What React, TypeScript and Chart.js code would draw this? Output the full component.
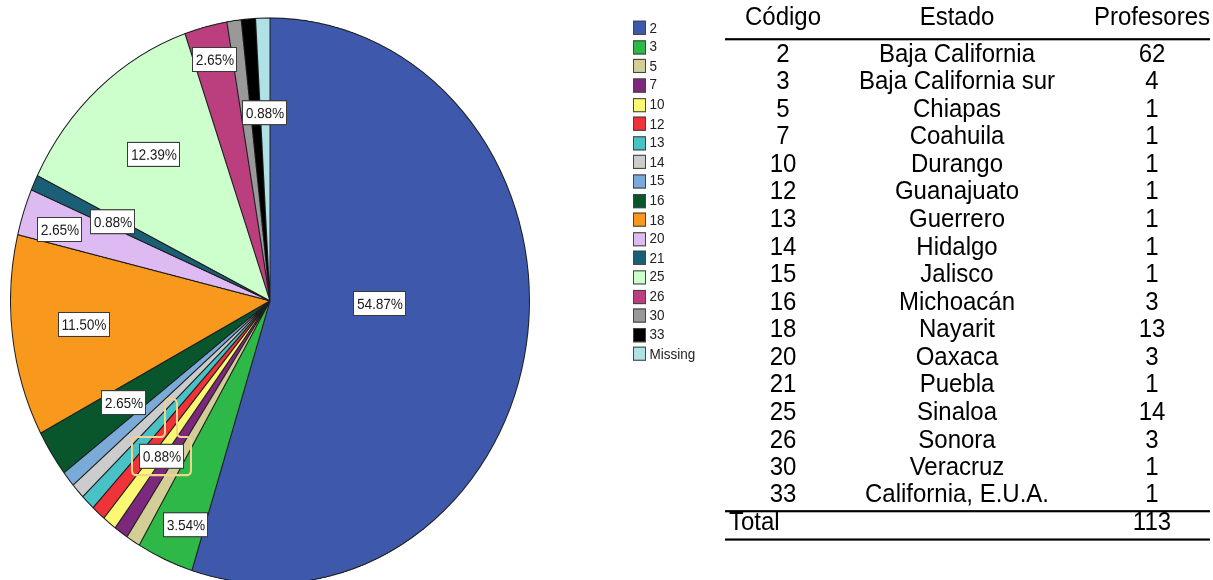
import React, { useEffect, useRef } from 'react';
import { Chart, registerables } from 'chart.js';

Chart.register(...registerables);

// ---------- data ----------
const headers = ['Código', 'Estado', 'Profesores'];
const codes = ['2', '3', '5', '7', '10', '12', '13', '14', '15', '16', '18', '20', '21', '25', '26', '30', '33'];
const estados = [
  'Baja California', 'Baja California sur', 'Chiapas', 'Coahuila', 'Durango', 'Guanajuato',
  'Guerrero', 'Hidalgo', 'Jalisco', 'Michoacán', 'Nayarit', 'Oaxaca', 'Puebla', 'Sinaloa',
  'Sonora', 'Veracruz', 'California, E.U.A.',
];
const profesores = [62, 4, 1, 1, 1, 1, 1, 1, 1, 3, 13, 3, 1, 14, 3, 1, 1];
const missingLabel = 'Missing';
const missingCount = 1;
const totalLabel = 'Total';

const pieLabels = [...codes, missingLabel];
const pieValues = [...profesores, missingCount];
const totalCount = pieValues.reduce((a, b) => a + b, 0);

const sliceColors = [
  '#3e58ac', '#2eb848', '#d3ce97', '#7b287d', '#fbf873', '#ef3338', '#48c2c5', '#cccccc',
  '#7aaad8', '#0a562c', '#f8981d', '#ddbaf1', '#1a5f76', '#ccffcc', '#bb3f7f', '#999999',
  '#000000', '#b0e2e5',
];

// which slices get a percentage label (radius fraction, angular shift in degrees)
const labelPlacements = [
  { slice: 0, radius: 0.424, shift: -7.1 },
  { slice: 1, radius: 0.857, shift: -1.7 },
  { slice: 4, radius: 0.691, shift: -1.0, highlight: true },
  { slice: 9, radius: 0.67, shift: -0.25 },
  { slice: 10, radius: 0.72, shift: 0.4 },
  { slice: 11, radius: 0.849, shift: -1.1 },
  { slice: 12, radius: 0.666, shift: 0.1 },
  { slice: 13, radius: 0.685, shift: 0.5 },
  { slice: 14, radius: 0.878, shift: 0.4 },
  { slice: 17, radius: 0.665, shift: -0.2 },
];

// ---------- layout ----------
const K = 1.09; // vertical stretch of the whole picture
const FONT = '"Liberation Sans", Arial, Helvetica, sans-serif';

function roundedPoly(ctx: CanvasRenderingContext2D, pts: number[][], r: number) {
  const n = pts.length;
  const last = pts[n - 1];
  const first = pts[0];
  ctx.beginPath();
  ctx.moveTo((last[0] + first[0]) / 2, (last[1] + first[1]) / 2);
  for (let i = 0; i < n; i++) {
    const p = pts[i];
    const q = pts[(i + 1) % n];
    ctx.arcTo(p[0], p[1], q[0], q[1], r);
  }
  ctx.closePath();
}

const pctLabelPlugin = {
  id: 'pctLabels',
  afterDatasetsDraw(chart: any) {
    const meta = chart.getDatasetMeta(0);
    const ctx: CanvasRenderingContext2D = chart.ctx;
    ctx.save();
    ctx.font = `13.5px ${FONT}`;
    ctx.textAlign = 'center';
    ctx.textBaseline = 'middle';
    for (const p of labelPlacements) {
      const arc = meta.data[p.slice];
      const { x, y, startAngle, endAngle, outerRadius } = arc.getProps(
        ['x', 'y', 'startAngle', 'endAngle', 'outerRadius'],
        true
      );
      const a = (startAngle + endAngle) / 2 + (p.shift * Math.PI) / 180;
      const cx = Math.round(x + Math.cos(a) * outerRadius * p.radius);
      const cy = Math.round(y + Math.sin(a) * outerRadius * p.radius);
      const text = ((pieValues[p.slice] / totalCount) * 100).toFixed(2) + '%';
      const w = Math.round(ctx.measureText(text).width + 7);
      const h = 23;
      const bx = cx - Math.round(w / 2);
      const by = cy - Math.round(h / 2);
      if ((p as any).highlight) {
        const mx = 7;
        const my = 6;
        const fx0 = bx - mx, fx1 = bx + w + mx, fy0 = by - my, fy1 = by + h + my;
        const tx0 = cx + 3, tx1 = cx + 15, ty0 = cy - 53;
        ctx.save();
        ctx.strokeStyle = '#f1d48b';
        ctx.lineWidth = 2;
        roundedPoly(
          ctx,
          [
            [fx0, fy0], [tx0, fy0], [tx0, ty0], [tx1, ty0], [tx1, fy0],
            [fx1, fy0], [fx1, fy1], [fx0, fy1],
          ],
          4
        );
        ctx.stroke();
        ctx.restore();
      }
      ctx.fillStyle = '#ffffff';
      ctx.fillRect(bx, by, w, h);
      ctx.strokeStyle = '#3a3a3a';
      ctx.lineWidth = 1;
      ctx.strokeRect(bx + 0.5, by + 0.5, w - 1, h - 1);
      ctx.fillStyle = '#1a1a1a';
      ctx.fillText(text, cx, cy + 1);
    }
    ctx.restore();
  },
};

function PieChart() {
  const ref = useRef<HTMLCanvasElement | null>(null);
  useEffect(() => {
    if (!ref.current) return;
    const chart = new Chart(ref.current, {
      type: 'pie',
      data: {
        labels: pieLabels,
        datasets: [
          {
            data: pieValues,
            backgroundColor: sliceColors,
            borderColor: '#1e1e1e',
            borderWidth: 1,
          },
        ],
      },
      options: {
        responsive: false,
        animation: false,
        devicePixelRatio: 2,
        events: [],
        layout: { padding: 0 },
        plugins: { legend: { display: false }, tooltip: { enabled: false } },
      },
      plugins: [pctLabelPlugin],
    } as any);
    return () => chart.destroy();
  }, []);
  return (
    <canvas
      ref={ref}
      width={520}
      height={520}
      style={{ position: 'absolute', left: 10, top: 16.1, width: 520, height: 520 }}
    />
  );
}

function Legend() {
  return (
    <>
      {pieLabels.map((lab, i) => {
        const cy = (28 + 19.18 * i) / K;
        return (
          <React.Fragment key={lab}>
            <div
              style={{
                position: 'absolute',
                left: 633,
                top: cy - 6.5,
                width: 13,
                height: 13,
                boxSizing: 'border-box',
                border: '1px solid #444',
                background: sliceColors[i],
              }}
            />
            <div
              style={{
                position: 'absolute',
                left: 649.5,
                top: cy - 8,
                height: 16,
                lineHeight: '16px',
                fontSize: 13.5,
                color: '#222',
                whiteSpace: 'nowrap',
              }}
            >
              {lab}
            </div>
          </React.Fragment>
        );
      })}
    </>
  );
}

const colCenters = [783, 957, 1152];

function Cell({ x, y, text, align }: { x: number; y: number; text: string; align?: string }) {
  const h = 28;
  const style: any = {
    position: 'absolute',
    top: y / K - h / 2,
    height: h,
    lineHeight: h + 'px',
    fontSize: 24,
    color: '#000',
    whiteSpace: 'nowrap',
  };
  if (align === 'left') {
    style.left = x;
  } else {
    style.left = x - 150;
    style.width = 300;
    style.textAlign = 'center';
  }
  return <div style={style}>{text}</div>;
}

function Rule({ y }: { y: number }) {
  return (
    <div
      style={{
        position: 'absolute',
        left: 725,
        width: 485,
        top: (y - 1) / K,
        height: 2 / K,
        background: '#000',
      }}
    />
  );
}

function Table() {
  const rowY = (i: number) => 53 + 27.56 * i;
  return (
    <>
      {headers.map((h, j) => (
        <Cell key={h} x={colCenters[j]} y={16} text={h} />
      ))}
      <Rule y={39} />
      {codes.map((c, i) => (
        <React.Fragment key={c}>
          <Cell x={colCenters[0]} y={rowY(i)} text={c} />
          <Cell x={colCenters[1]} y={rowY(i)} text={estados[i]} />
          <Cell x={colCenters[2]} y={rowY(i)} text={String(profesores[i])} />
        </React.Fragment>
      ))}
      <Rule y={511} />
      <Cell x={729} y={rowY(codes.length)} text={totalLabel} align="left" />
      <Cell x={colCenters[2]} y={rowY(codes.length)} text={String(totalCount)} />
      <Rule y={539.5} />
    </>
  );
}

export default function App() {
  return (
    <div
      style={{
        position: 'fixed',
        left: 0,
        top: 0,
        width: 1213,
        height: 580,
        overflow: 'hidden',
        background: '#fff',
      }}
    >
      <div
        style={{
          position: 'absolute',
          left: 0,
          top: 0,
          width: 1213,
          height: 580 / K,
          transform: `scaleY(${K})`,
          transformOrigin: '0 0',
          fontFamily: FONT,
        }}
      >
        <PieChart />
        <Legend />
        <Table />
      </div>
    </div>
  );
}
